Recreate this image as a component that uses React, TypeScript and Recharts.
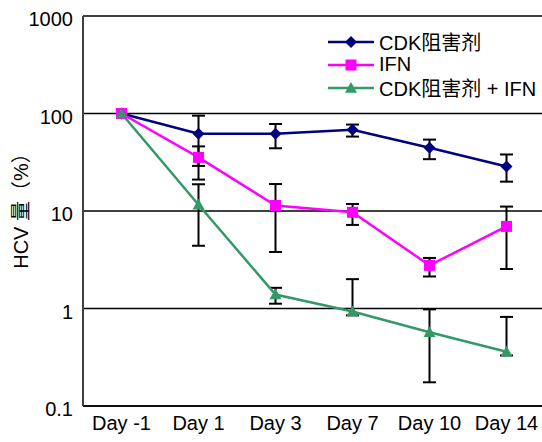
import { LineChart, Line, XAxis, YAxis, CartesianGrid, ErrorBar, Legend } from 'recharts'

const days = ['Day -1', 'Day 1', 'Day 3', 'Day 7', 'Day 10', 'Day 14']
const seriesNames = ['CDK阻害剂', 'IFN', 'CDK阻害剂 + IFN']

const cdk = [100, 62, 62, 68, 44.5, 28.6]
const cdkLow = [null, 29, 44, 58, 34, 20]
const cdkHigh = [null, 95, 78, 77, 54, 38]

const ifn = [100, 35.5, 11.4, 9.7, 2.77, 6.95]
const ifnLow = [null, 21, 3.8, 7.2, 2.13, 2.54]
const ifnHigh = [null, 46, 18.9, 11.8, 3.3, 11.1]

const combo = [100, 11.6, 1.39, 0.93, 0.57, 0.36]
const comboLow = [null, 4.4, 1.12, 0.85, 0.175, 0.33]
const comboHigh = [null, 18.8, 1.63, 2.0, 0.98, 0.82]

const yTicks = [0.1, 1, 10, 100, 1000]

const colors = ['#000080', '#FF00FF', '#339966']
const font = '"Liberation Sans", Arial, "Noto Sans CJK SC", sans-serif'

const err = (v: number, lo: number | null, hi: number | null) =>
    lo == null || hi == null ? null : [v - lo, hi - v]

const chartData = days.map((day, i) => ({
    day,
    cdk: cdk[i],
    cdkErr: err(cdk[i], cdkLow[i], cdkHigh[i]),
    ifn: ifn[i],
    ifnErr: err(ifn[i], ifnLow[i], ifnHigh[i]),
    combo: combo[i],
    comboErr: err(combo[i], comboLow[i], comboHigh[i]),
}))

const Diamond = ({ cx, cy, fill, s = 6 }: any) => (
    <path d={`M${cx},${cy - s} L${cx + s},${cy} L${cx},${cy + s} L${cx - s},${cy} Z`} fill={fill} />
)
const Square = ({ cx, cy, fill, s = 5.5 }: any) => (
    <rect x={cx - s} y={cy - s} width={s * 2} height={s * 2} fill={fill} />
)
const Triangle = ({ cx, cy, fill, s = 6 }: any) => (
    <path d={`M${cx},${cy - s} L${cx + s},${cy + s * 0.8} L${cx - s},${cy + s * 0.8} Z`} fill={fill} />
)
const shapes = [Diamond, Square, Triangle]

const makeDot = (idx: number) => (props: any) => {
    const Shape = shapes[idx]
    return <Shape key={props.index} cx={props.cx} cy={props.cy} fill={colors[idx]} />
}

const renderLegend = () => (
    <div style={{ fontFamily: font, fontSize: 20, color: '#000' }}>
        {seriesNames.map((name, i) => {
            const Shape = shapes[i]
            return (
                <div key={name} style={{ display: 'flex', alignItems: 'center', height: 23 }}>
                    <svg width={46} height={16} style={{ marginRight: 5 }}>
                        <line x1={0} y1={8} x2={46} y2={8} stroke={colors[i]} strokeWidth={2.5} />
                        <Shape cx={23} cy={8} fill={colors[i]} />
                    </svg>
                    <span style={{ whiteSpace: 'nowrap' }}>{name}</span>
                </div>
            )
        })}
    </div>
)

const renderYLabel = () => (
    <text
        x={21}
        y={206}
        transform="rotate(-90 21 206)"
        textAnchor="middle"
        dominantBaseline="central"
        fontSize={20}
        fill="#000"
        fontFamily={font}
    >
        HCV 量（%）
    </text>
)

export default function App() {
    return (
        <div style={{ position: 'absolute', left: 0, top: 0, width: 542, height: 442, overflow: 'hidden', background: '#fff', fontFamily: font }}>
            <LineChart width={545} height={442} data={chartData} margin={{ top: 16, right: 0, left: 0, bottom: 0 }}>
                <CartesianGrid vertical={false} stroke="#000" strokeWidth={1.5} />
                <XAxis
                    dataKey="day"
                    height={36}
                    padding={{ left: 38.5, right: 38.5 }}
                    axisLine={{ stroke: '#000', strokeWidth: 1.5 }}
                    tickLine={false}
                    tickMargin={4}
                    tick={{ fontSize: 20, fill: '#000', fontFamily: font }}
                    interval={0}
                />
                <YAxis
                    type="number"
                    scale="log"
                    domain={[0.1, 1000]}
                    ticks={yTicks}
                    allowDataOverflow
                    width={83}
                    axisLine={{ stroke: '#404040', strokeWidth: 2 }}
                    tickLine={false}
                    tickMargin={4}
                    tick={{ fontSize: 20, fill: '#000', fontFamily: font, dy: 3 }}
                    tickFormatter={(v: number) => String(v)}
                    label={{ content: renderYLabel }}
                />
                <Legend
                    layout="horizontal"
                    verticalAlign="middle"
                    align="center"
                    content={renderLegend}
                    wrapperStyle={{ top: 30, left: 328, width: 214, height: 72 }}
                />
                <Line dataKey="cdk" stroke={colors[0]} strokeWidth={2.5} dot={makeDot(0)} activeDot={false} isAnimationActive={false}>
                    <ErrorBar dataKey="cdkErr" stroke="#000" strokeWidth={2} width={6.5} direction="y" />
                </Line>
                <Line dataKey="ifn" stroke={colors[1]} strokeWidth={2.5} dot={makeDot(1)} activeDot={false} isAnimationActive={false}>
                    <ErrorBar dataKey="ifnErr" stroke="#000" strokeWidth={2} width={6.5} direction="y" />
                </Line>
                <Line dataKey="combo" stroke={colors[2]} strokeWidth={2.5} dot={makeDot(2)} activeDot={false} isAnimationActive={false}>
                    <ErrorBar dataKey="comboErr" stroke="#000" strokeWidth={2} width={6.5} direction="y" />
                </Line>
            </LineChart>
        </div>
    )
}
